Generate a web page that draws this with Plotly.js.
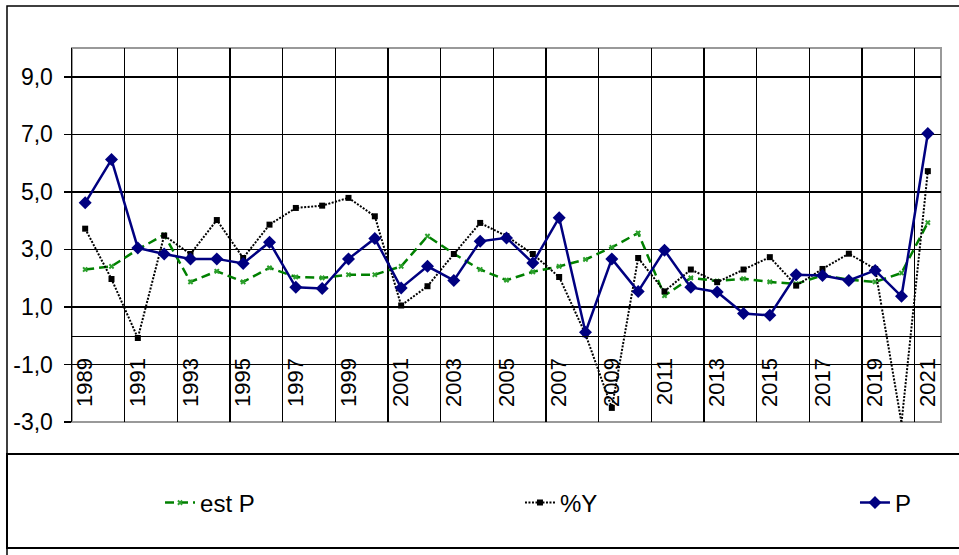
<!DOCTYPE html>
<html>
<head>
<meta charset="utf-8">
<script src="https://cdn.plot.ly/plotly-3.0.1.min.js"></script>
<style>html,body{margin:0;padding:0;background:#fff;}#chart{width:959px;height:555px;}</style>
</head>
<body>
<div id="chart"></div>
<script>
// Data
var years = ["1989","1990","1991","1992","1993","1994","1995","1996","1997","1998","1999","2000","2001","2002","2003","2004","2005","2006","2007","2008","2009","2010","2011","2012","2013","2014","2015","2016","2017","2018","2019","2020","2021"];
var estP = [2.30,2.41,3.00,3.51,1.87,2.24,1.87,2.36,2.04,2.01,2.12,2.12,2.41,3.46,2.85,2.30,1.93,2.22,2.41,2.65,3.07,3.57,1.39,2.01,1.90,1.98,1.87,1.80,2.10,1.95,1.87,2.18,3.93];
var pctY = [3.72,1.97,-0.08,3.48,2.84,4.02,2.70,3.86,4.44,4.52,4.79,4.15,1.05,1.72,2.84,3.92,3.46,2.84,2.04,0.05,-2.51,2.70,1.54,2.30,1.86,2.30,2.73,1.74,2.32,2.85,2.32,-3.03,5.72];
var P = [4.62,6.12,3.05,2.84,2.67,2.67,2.51,3.25,1.68,1.64,2.67,3.38,1.66,2.41,1.92,3.28,3.40,2.53,4.10,0.12,2.67,1.54,2.97,1.68,1.52,0.77,0.71,2.12,2.09,1.92,2.27,1.37,7.03];
var yTickVals = [-3,-1,1,3,5,7,9];
var yTickText = ["-3,0","-1,0","1,0","3,0","5,0","7,0","9,0"];
var seriesNames = ["est P","%Y","P"];

var FONT = "Liberation Sans, Arial, sans-serif";

var traces = [
  {x: years, y: estP, name: seriesNames[0], type: "scatter", mode: "lines+markers",
   line: {color: "#008000", width: 2.5, dash: "9px,5px"},
   marker: {symbol: "x", size: 5, color: "#2ca02c"}, legend: "legend"},
  {x: years, y: pctY, name: seriesNames[1], type: "scatter", mode: "lines+markers",
   line: {color: "#000000", width: 2, dash: "2px,1.5px"},
   marker: {symbol: "square", size: 6, color: "#000000"}, cliponaxis: false, legend: "legend2"},
  {x: years, y: P, name: seriesNames[2], type: "scatter", mode: "lines+markers",
   line: {color: "#000080", width: 2.5},
   marker: {symbol: "diamond", size: 10, color: "#000080"}, legend: "legend3"}
];

var legBase = {xanchor: "left", yanchor: "middle", y: -0.2166, orientation: "h",
  bgcolor: "rgba(0,0,0,0)", borderwidth: 0, font: {family: FONT, size: 24, color: "#000"}};

var layout = {
  width: 959, height: 555,
  margin: {l: 72, r: 18, t: 48, b: 133, pad: 0},
  paper_bgcolor: "#ffffff", plot_bgcolor: "#ffffff",
  showlegend: true,
  xaxis: {
    type: "category", range: [-0.5, 32.5], tickmode: "linear", tick0: 0, dtick: 2,
    tickson: "boundaries", anchor: "free", position: 3/13,
    showgrid: true, gridcolor: "#000", gridwidth: 1.5,
    showline: true, linecolor: "#000", linewidth: 1.5,
    ticks: "", tickangle: -90, ticklabelstandoff: 12,
    tickfont: {family: FONT, size: 22, color: "#000"}, fixedrange: true
  },
  yaxis: {
    range: [-3, 10], tickmode: "array", tickvals: yTickVals, ticktext: yTickText,
    showgrid: true, gridcolor: "#000", gridwidth: 1.5, zeroline: false,
    showline: true, linecolor: "#000", linewidth: 1.5,
    ticks: "outside", ticklen: 7, tickwidth: 1.5, tickcolor: "#000", ticklabelstandoff: 6,
    tickfont: {family: FONT, size: 23, color: "#000"}, fixedrange: true
  },
  legend: Object.assign({}, legBase, {x: 0.1013}),
  legend2: Object.assign({}, legBase, {x: 0.5155}),
  legend3: Object.assign({}, legBase, {x: 0.901}),
  shapes: [
    {type: "rect", xref: "paper", yref: "paper", x0: 0, x1: 1, y0: 0, y1: 1,
     line: {color: "#999", width: 2}, layer: "below"},
    {type: "rect", xref: "paper", yref: "paper", x0: -0.0748, x1: 1.05, y0: -0.45, y1: 1.1123,
     line: {color: "#000", width: 1.5}, layer: "below"},
    {type: "rect", xref: "paper", yref: "paper", x0: -0.0748, x1: 1.05, y0: -0.3369, y1: -0.0856,
     line: {color: "#000", width: 2}, layer: "below"}
  ]
};

Plotly.newPlot("chart", traces, layout, {staticPlot: true, displayModeBar: false});
</script>
</body>
</html>
